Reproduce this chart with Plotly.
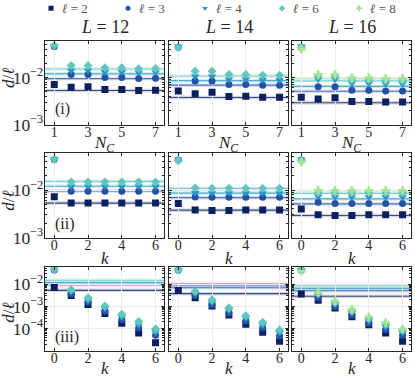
import plotly.graph_objects as go

# --- data -------------------------------------------------------------
L_vals = [12, 14, 16]
n_c = [1, 2, 3, 4, 5, 6, 7]
k_vals = [0, 1, 2, 3, 4, 5, 6]
ell_vals = [2, 3, 4, 6, 8]

colors = {2: "#0c1f5e", 3: "#2452a6", 4: "#2497c6", 6: "#62c6bf", 8: "#a6e399"}
symbols = {2: "square", 3: "circle", 4: "triangle-down", 6: "diamond", 8: "cross"}

# (i) d/l versus N_C
nc_L12 = {2: [0.0071, 0.0062, 0.0064, 0.0056, 0.0056, 0.0053, 0.0054],
          3: [0.046, 0.0116, 0.0116, 0.0100, 0.0100, 0.0095, 0.0097],
          4: [0.047, 0.0142, 0.0142, 0.0132, 0.0132, 0.0128, 0.0129],
          6: [0.048, 0.0181, 0.0180, 0.0162, 0.0162, 0.0154, 0.0155]}
nc_L14 = {2: [0.0052, 0.00455, 0.00485, 0.00394, 0.0040, 0.0038, 0.0038],
          3: [0.044, 0.0084, 0.0084, 0.0071, 0.0071, 0.0069, 0.0069],
          4: [0.046, 0.0106, 0.0106, 0.0092, 0.0092, 0.0089, 0.0089],
          6: [0.044, 0.0136, 0.0136, 0.0116, 0.0116, 0.0112, 0.0112]}
nc_L16 = {2: [0.0038, 0.0035, 0.0037, 0.0031, 0.0031, 0.0030, 0.0030],
          3: [0.044, 0.0064, 0.0064, 0.0054, 0.0054, 0.0052, 0.0052],
          4: [0.046, 0.0092, 0.0092, 0.0075, 0.0075, 0.0073, 0.0073],
          6: [0.043, 0.0108, 0.0108, 0.0088, 0.0088, 0.0086, 0.0086],
          8: [0.0405, 0.0117, 0.0117, 0.0099, 0.0099, 0.0096, 0.0096]}

# (ii) d/l versus k
k2_L12 = {2: [0.0072, 0.0053, 0.0053, 0.0053, 0.0053, 0.0053, 0.0053],
          3: [0.044, 0.0094, 0.0094, 0.0094, 0.0094, 0.0094, 0.0094],
          4: [0.045, 0.0119, 0.0119, 0.0119, 0.0119, 0.0119, 0.0119],
          6: [0.0445, 0.0147, 0.0147, 0.0147, 0.0147, 0.0147, 0.0147]}
k2_L14 = {2: [0.0052, 0.0038, 0.0037, 0.0037, 0.0038, 0.0038, 0.0038],
          3: [0.043, 0.0071, 0.0070, 0.0070, 0.0070, 0.0070, 0.0070],
          4: [0.044, 0.0087, 0.0086, 0.0086, 0.0086, 0.0086, 0.0086],
          6: [0.042, 0.0110, 0.0109, 0.0109, 0.0109, 0.0109, 0.0109]}
k2_L16 = {2: [0.0040, 0.0030, 0.0029, 0.0029, 0.0030, 0.0030, 0.0030],
          3: [0.043, 0.0055, 0.0052, 0.0052, 0.0052, 0.0052, 0.0052],
          4: [0.044, 0.0073, 0.0071, 0.0071, 0.0071, 0.0071, 0.0071],
          6: [0.042, 0.0088, 0.0087, 0.0087, 0.0087, 0.0087, 0.0087],
          8: [0.0387, 0.0099, 0.0098, 0.0098, 0.0098, 0.0098, 0.0098]}

# (iii) d/l versus k
k3_L12 = {2: [0.0072, 0.0031, 0.00124, 0.00048, 0.000176, 0.000064, 0.0000232],
          3: [0.044, 0.0036, 0.0016, 0.00063, 0.00025, 0.000106, 0.0000505],
          4: [0.045, 0.0045, 0.00187, 0.00080, 0.00032, 0.000139, 0.000068],
          6: [0.0457, 0.0057, 0.00244, 0.00105, 0.00045, 0.00021, 0.0000955]}
k3_L14 = {2: [0.0052, 0.00245, 0.00105, 0.00041, 0.000158, 0.0000684, 0.0000275],
          3: [0.043, 0.0031, 0.0012, 0.00051, 0.00022, 0.000107, 0.000047],
          4: [0.044, 0.0037, 0.0015, 0.00066, 0.00029, 0.00014, 0.000065],
          6: [0.0432, 0.0047, 0.0020, 0.00086, 0.00038, 0.000195, 0.0000867]}
k3_L16 = {2: [0.0036, 0.0019, 0.00086, 0.00034, 0.000149, 0.000064, 0.0000275],
          3: [0.043, 0.0025, 0.0010, 0.00041, 0.000175, 0.000092, 0.000051],
          4: [0.044, 0.0031, 0.0012, 0.00052, 0.00022, 0.000116, 0.000065],
          6: [0.042, 0.0039, 0.0015, 0.00063, 0.00029, 0.00016, 0.000087],
          8: [0.039, 0.0043, 0.00175, 0.00075, 0.00034, 0.000188, 0.0000955]}

# horizontal reference levels per L
ref_L12 = {2: 0.0053, 3: 0.0095, 4: 0.0120, 6: 0.0152}
ref_L14 = {2: 0.00377, 3: 0.0069, 4: 0.0086, 6: 0.0108}
ref_L16 = {2: 0.0029, 3: 0.0051, 4: 0.0065, 6: 0.0085, 8: 0.0097}

rows = [
    (n_c, [nc_L12, nc_L14, nc_L16], "<i>N<sub>C</sub></i>", [1, 3, 5, 7], [0.45, 7.5], [-3.003, -1.22], "(i)"),
    (k_vals, [k2_L12, k2_L14, k2_L16], "<i>k</i>", [0, 2, 4, 6], [-0.55, 6.5], [-3.003, -1.22], "(ii)"),
    (k_vals, [k3_L12, k3_L14, k3_L16], "<i>k</i>", [0, 2, 4, 6], [-0.55, 6.5], [-4.99, -1.22], "(iii)"),
]
refs = [ref_L12, ref_L14, ref_L16]

# --- layout geometry (pixels) -----------------------------------------
W, H = 415, 386
cols_px = [(45, 164), (169, 288), (292, 411)]
rows_px = [(42, 128), (157, 244), (274, 360)]
xtitle_px = [148, 265, 378]
ytitle_px = [80, 206, 321]
tag_y = [0.19, 0.16, 0.16]
legend_px = [51, 128, 205, 282, 359]   # legend marker centres along the top strip
FONT = "Liberation Serif"
INK = "#262626"

fig = go.Figure()
layout = {}
annotations = []
shapes = []


def sfx(i):
    return "" if i == 1 else str(i)


for r, (xs, series, xtitle, xticks, xrange, yrange, tag) in enumerate(rows):
    for c in range(3):
        i = r * 3 + c + 1
        xa, ya = "x" + sfx(i), "y" + sfx(i)
        x0, x1 = cols_px[c]
        y0, y1 = rows_px[r]
        layout["xaxis" + sfx(i)] = dict(
            domain=[x0 / W, x1 / W], anchor=ya, range=xrange,
            tickvals=xticks, ticks="inside", ticklen=3, tickcolor=INK,
            ticklabelstandoff=-5,
            showline=True, mirror="ticks", linecolor=INK, linewidth=1,
            showgrid=True, gridcolor="#ebebeb", gridwidth=1, zeroline=False,
            tickfont=dict(family=FONT, size=14, color=INK))
        layout["yaxis" + sfx(i)] = dict(
            domain=[1 - y1 / H, 1 - y0 / H], anchor=xa, type="log", range=yrange,
            dtick=1, exponentformat="power", showticklabels=(c == 0),
            ticks="inside", ticklen=3, tickcolor=INK, ticklabelstandoff=-2,
            minor=dict(ticks="inside", ticklen=2, tickcolor=INK, dtick="D1", showgrid=False),
            showline=True, mirror="ticks", linecolor=INK, linewidth=1,
            showgrid=True, gridcolor="#ebebeb", gridwidth=1, zeroline=False,
            tickfont=dict(family=FONT, size=14, color=INK))

        for ell, level in refs[c].items():
            for w, op in [(3.5, 0.18), (1.1, 0.75)]:
                shapes.append(dict(type="line", xref=xa + " domain", yref=ya,
                                   x0=0, x1=1, y0=level, y1=level, layer="below",
                                   line=dict(color=colors[ell], width=w), opacity=op))

        for ell, vals in series[c].items():
            fig.add_trace(go.Scatter(
                x=xs, y=vals, xaxis=xa, yaxis=ya, mode="markers", showlegend=False,
                hoverinfo="skip",
                marker=dict(symbol=symbols[ell], size=7 if ell != 4 else 7.5,
                            color=colors[ell], line=dict(width=0))))

        # x axis title
        annotations.append(dict(text=xtitle, xref="paper", yref="paper",
                                x=(x0 + x1) / 2 / W, y=1 - xtitle_px[r] / H,
                                showarrow=False, xanchor="center", yanchor="middle",
                                font=dict(family=FONT, size=17, color=INK)))
    # y axis title and panel tag
    annotations.append(dict(text="<i>d</i>/<i>ℓ</i>", xref="paper", yref="paper",
                            x=9 / W, y=1 - ytitle_px[r] / H, textangle=-90,
                            xanchor="center", yanchor="middle",
                            showarrow=False, font=dict(family=FONT, size=17, color=INK)))
    first = sfx(r * 3 + 1)
    annotations.append(dict(text=tag, xref="x" + first + " domain",
                            yref="y" + first + " domain", x=0.07, y=tag_y[r],
                            xanchor="left", yanchor="middle", showarrow=False,
                            font=dict(family=FONT, size=16, color=INK)))

for c, L in enumerate(L_vals):
    x0, x1 = cols_px[c]
    annotations.append(dict(text=f"<i>L</i> = {L}", xref="paper", yref="paper",
                            x=(x0 + x1) / 2 / W, y=1 - 28 / H, showarrow=False,
                            xanchor="center", yanchor="middle",
                            font=dict(family=FONT, size=18, color=INK)))

# legend drawn on a hidden strip axis along the top (pixel units)
layout["xaxis10"] = dict(domain=[0, 1], range=[0, W], anchor="y10", visible=False, fixedrange=True)
layout["yaxis10"] = dict(domain=[1 - 17 / H, 1], range=[0, 1], anchor="x10", visible=False, fixedrange=True)
fig.add_trace(go.Scatter(
    x=legend_px, y=[0.5] * len(ell_vals), xaxis="x10", yaxis="y10", mode="markers",
    showlegend=False, hoverinfo="skip",
    marker=dict(symbol=[symbols[e] for e in ell_vals], size=5,
                color=[colors[e] for e in ell_vals], line=dict(width=0))))
for px, ell in zip(legend_px, ell_vals):
    annotations.append(dict(text=f"<i>ℓ</i> = {ell}", xref="x10", yref="y10",
                            x=px + 9, y=0.5, xanchor="left", yanchor="middle",
                            showarrow=False,
                            font=dict(family=FONT, size=13, color="#555555")))

fig.update_layout(
    **layout,
    width=W, height=H,
    margin=dict(l=0, r=0, t=0, b=0),
    paper_bgcolor="white", plot_bgcolor="white",
    annotations=annotations, shapes=shapes,
    showlegend=False,
)

fig.write_html("out.html", config={"displayModeBar": False},
               post_script="document.body.style.margin='0px';")
